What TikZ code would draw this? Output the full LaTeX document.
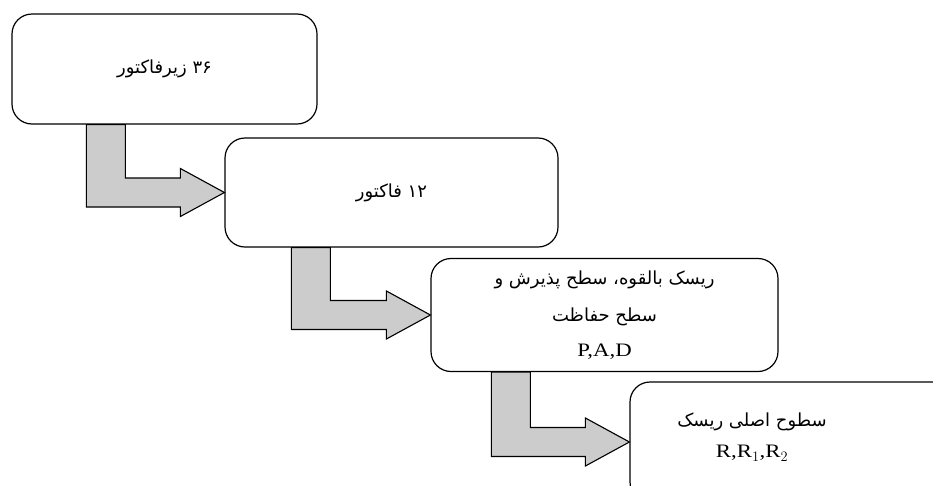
\documentclass[tikz,border=0pt]{standalone}
\usepackage{fontspec}
\setmainfont{Liberation Serif}
\newfontfamily\farsi[Script=Arabic]{DejaVu Sans}
\newfontfamily\latinfont[FakeStretch=1.2]{Liberation Serif}
\TeXXeTstate=1
\usetikzlibrary{calc}

\tikzset{
	stage/.style={draw, line width=1.2pt, rounded corners=20pt, fill=white, inner sep=0pt},
	elbowarrow/.style={draw, line width=1.1pt, fill=black!20, line join=miter},
	fa/.style={font=\farsi\fontsize{18}{22}\selectfont, align=center}
}

\newcommand{\elbow}[3] % source box, target box, shaft offset from source's left side (px)
{
	% shaft starts under the source box
	\coordinate (shaft) at ($(#1.south west)+(#3,0)$);
	% bent shaft and head, tip on the target's west side
	\filldraw[elbowarrow] (shaft) -- ++(39,0) |- ($(#2.west)+(-44,-14.5)$)
		-- ++(0,-9.5) -- (#2.west) -- ++(-44,24) -- ++(0,-9.5) -| (shaft) -- cycle;
}

\begin{document}
\begin{tikzpicture}[x=1pt, y=-1pt]
	% 933 x 485 px, y grows downwards
	\clip (0,0) rectangle (933,485);
	\node[stage, fa, minimum width=305, minimum height=110] (sub) at (164.5,69)
		{\beginR ۳۶ زیرفاکتور\endR};
	\node[stage, fa, minimum width=333, minimum height=109] (fac) at (391.5,192.5)
		{\beginR ۱۲ فاکتور\endR};
	\node[stage, fa, minimum width=347, minimum height=113] (pad) at (604.5,315)
		{\beginR ریسک بالقوه، سطح پذیرش و\endR\\[15pt]
		 \beginR سطح حفاظت\endR\\[13pt]
		 {\latinfont\fontsize{19}{22}\selectfont P,A,D}};
	\node[stage, minimum width=330, minimum height=120] (lvl) at (795,442) {};
	\node[fa] (lvltxt) at (752,437)
		{\beginR سطوح اصلی ریسک\endR\\[9pt]
		 {\latinfont\fontsize{19}{22}\selectfont R,R$_1$,R$_2$}};

	\elbow{sub}{fac}{75};
	\elbow{fac}{pad}{67};
	\elbow{pad}{lvl}{61};
\end{tikzpicture}
\end{document}
